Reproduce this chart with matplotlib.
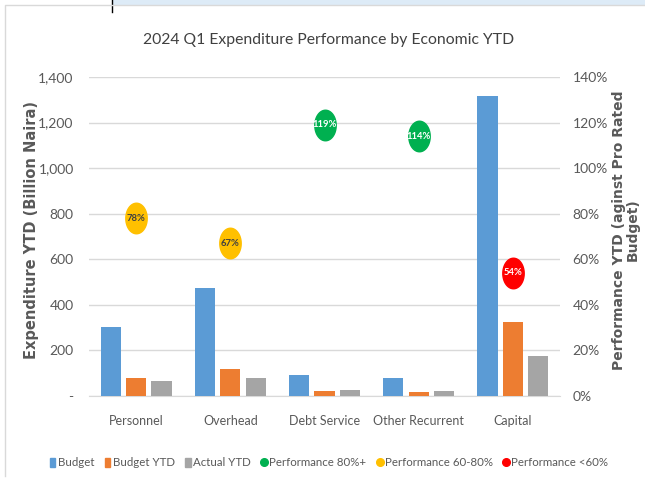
import numpy as np
import matplotlib
matplotlib.use("Agg")
import matplotlib.pyplot as plt
from matplotlib.path import Path
from matplotlib.patches import Rectangle
from matplotlib.lines import Line2D
from matplotlib.ticker import FuncFormatter, MultipleLocator

plt.rcParams['font.family'] = ['Lato', 'DejaVu Sans']

# data
categories = ["Personnel", "Overhead", "Debt Service", "Other Recurrent", "Capital"]
budget = [304, 475, 91, 80, 1315]
budget_ytd = [80, 117, 23, 16, 323]
actual_ytd = [64, 79, 26, 20, 174]
performance = [78, 67, 119, 114, 54]
perf_labels = ["78%", "67%", "119%", "114%", "54%"]

c_budget = "#5B9BD5"
c_budget_ytd = "#ED7D31"
c_actual = "#A5A5A5"
c_green = "#00B050"
c_yellow = "#FFC000"
c_red = "#FF0000"
txt_gray = "#595959"


def perf_color(p):
    if p >= 80:
        return c_green
    if p >= 60:
        return c_yellow
    return c_red


# ellipse marker (taller than wide)
t = np.linspace(0, 2 * np.pi, 60)
ellipse = Path(np.column_stack([0.7 * np.cos(t), np.sin(t)]), closed=True)

fig = plt.figure(figsize=(6.45, 4.88), dpi=100)

# outer frame and the strip at the top
fig.patches.append(Rectangle((112 / 645, 1 - 5 / 488), 1, 5 / 488, transform=fig.transFigure,
                             facecolor="#DDEBF7", edgecolor="none", zorder=0))
fig.add_artist(Line2D([112 / 645, 112 / 645], [1, 1 - 12 / 488], transform=fig.transFigure,
                      color="black", lw=1))
fig.add_artist(Line2D([5 / 645, 5 / 645, 1], [0.025, 1 - 5 / 488, 1 - 5 / 488],
                      transform=fig.transFigure, color="#D9D9D9", lw=1))

ax = fig.add_axes([89 / 645, 92 / 488, 471 / 645, 319 / 488])
x = np.arange(len(categories))
w = 0.215
step = 0.27
ax.bar(x - step, budget, w, color=c_budget, label="Budget", zorder=3)
ax.bar(x, budget_ytd, w, color=c_budget_ytd, label="Budget YTD", zorder=3)
ax.bar(x + step, actual_ytd, w, color=c_actual, label="Actual YTD", zorder=3)

ax.set_xlim(-0.5, len(categories) - 0.5)
ax.set_ylim(0, 1400)
ax.yaxis.set_major_locator(MultipleLocator(200))
ax.yaxis.set_major_formatter(FuncFormatter(lambda v, p: "-" if v == 0 else f"{int(v):,}"))
ax.grid(axis="y", color="#D9D9D9", lw=1, zorder=0)
ax.set_axisbelow(True)
for s in ["top", "left", "right"]:
    ax.spines[s].set_visible(False)
ax.spines["bottom"].set_color("#D9D9D9")
ax.set_xticks(x)
ax.set_xticklabels(categories)
ax.tick_params(axis="x", length=0, pad=14, labelsize=9, labelcolor=txt_gray)
ax.tick_params(axis="y", length=0, pad=11, labelsize=10, labelcolor=txt_gray)
ax.set_ylabel("Expenditure YTD (Billion Naira)", family="DejaVu Sans", fontweight="bold",
              fontsize=10.5, color=txt_gray)
ax.yaxis.set_label_coords(-0.106, 0.52)

ax2 = ax.twinx()
ax2.set_ylim(0, 140)
ax2.yaxis.set_major_locator(MultipleLocator(20))
ax2.yaxis.set_major_formatter(FuncFormatter(lambda v, p: f"{int(v)}%"))
for s in ["top", "left", "right", "bottom"]:
    ax2.spines[s].set_visible(False)
ax2.tick_params(axis="y", length=0, pad=9, labelsize=10, labelcolor=txt_gray)
ax2.set_ylabel("Performance YTD (aginst Pro Rated\nBudget)", family="DejaVu Sans",
               fontweight="bold", fontsize=10, color=txt_gray, linespacing=1.0)
ax2.yaxis.set_label_coords(1.11, 0.52)

for xi, p, lab in zip(x, performance, perf_labels):
    col = perf_color(p)
    ax2.plot(xi, p, marker=ellipse, markersize=22, color=col, linestyle="none", zorder=4)
    tc = "#404040" if col == c_yellow else "white"
    ax2.text(xi, p, lab, ha="center", va="center", fontsize=6.8, fontweight="bold",
             color=tc, zorder=5)

fig.text(0.51, 1 - 40 / 488, "2024 Q1 Expenditure Performance by Economic YTD", ha="center",
         va="center", fontsize=11.3, color="#404040")

handles = [
    Rectangle((0, 0), 1, 1, color=c_budget),
    Rectangle((0, 0), 1, 1, color=c_budget_ytd),
    Rectangle((0, 0), 1, 1, color=c_actual),
    Line2D([], [], marker="o", color=c_green, linestyle="none", markersize=5.5),
    Line2D([], [], marker="o", color=c_yellow, linestyle="none", markersize=5.5),
    Line2D([], [], marker="o", color=c_red, linestyle="none", markersize=5.5),
]
labels = ["Budget", "Budget YTD", "Actual YTD", "Performance 80%+", "Performance 60-80%",
          "Performance <60%"]
leg = fig.legend(handles, labels, loc="center", bbox_to_anchor=(0.51, 1 - 463 / 488), ncol=6,
                 frameon=False, fontsize=8.3, handlelength=0.5, handleheight=0.9,
                 handletextpad=0.2, columnspacing=0.9, labelcolor=txt_gray)

fig.savefig("out.png", dpi=100)
